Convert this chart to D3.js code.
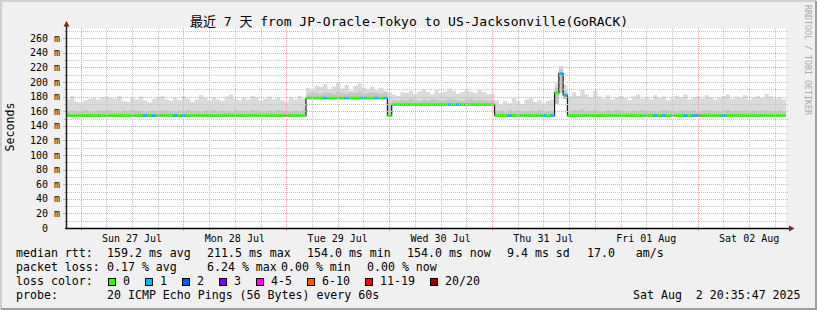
<!DOCTYPE html>
<html>
<head>
<meta charset="utf-8">
<script src="https://cdn.jsdelivr.net/npm/d3@7"></script>
<style>
	html, body { margin: 0; padding: 0; background: #f0f0f0; }
	svg text { font-family: "DejaVu Sans Mono", "Noto Sans CJK SC", monospace; white-space: pre; }
</style>
</head>
<body>
<svg id="chart" width="817" height="310"></svg>
<script>

// graph time range (7 days up to the graph time)
var endTime = Date.UTC(2025, 7, 2, 20, 35, 47);
var startTime = endTime - 7 * 24 * 3600 * 1000;

// hourly median rtt (ms), 168 hours from startTime
var medianRtt = [
	154,154,154,154,154,154,154,154,154,154,154,154,
	154,154,154,154,154,154,154,154,154,154,154,154,
	154,154,154,154,154,154,154,154,154,154,154,154,
	154,154,154,154,154,154,154,154,154,154,154,154,
	154,154,154,154,154,154,154,154,178,178,178,178,
	178,178,178,178,178,178,178,178,178,178,178,178,
	178,178,178,154,169,169,169,169,169,169,169,169,
	169,169,169,169,169,169,169,169,169,169,169,169,
	169,169,169,169,154,154,154,154,154,154,154,154,
	154,154,154,154,154,154,185,211.5,182,154,154,154,
	154,154,154,154,154,154,154,154,154,154,154,154,
	154,154,154,154,154,154,154,154,154,154,154,154,
	154,154,154,154,154,154,154,154,154,154,154,154,
	154,154,154,154,154,154,154,154,154,154,154,154
];

// lowest ping of the hour
var smokeLo = [
	154,154,154,154,154,154,154,154,154,154,154,154,
	154,154,154,154,154,154,154,154,154,154,154,154,
	154,154,154,154,154,154,154,154,154,154,154,154,
	154,154,154,154,154,154,154,154,154,154,154,154,
	154,154,154,154,154,154,154,154,178,178,178,178,
	178,178,178,178,178,178,178,178,178,178,178,178,
	178,178,178,154,169,169,169,169,169,169,169,169,
	169,169,169,169,169,169,169,169,169,169,169,169,
	169,169,169,169,154,154,154,154,154,154,154,154,
	154,154,154,154,154,154,170,185,177,154,154,154,
	154,154,154,154,154,154,154,154,154,154,154,154,
	154,154,154,154,154,154,154,154,154,154,154,154,
	154,154,154,154,154,154,154,154,154,154,154,154,
	154,154,154,154,154,154,154,154,154,154,154,154
];

// top of the dense part of the smoke
var smokeMid = [
	160,161,159,160,162,160,159,161,160,162,161,160,
	159,161,160,162,160,161,159,160,161,160,162,161,
	160,159,161,160,162,161,160,159,161,160,162,160,
	161,160,159,162,160,161,160,162,161,159,160,161,
	160,162,161,160,159,161,160,162,184,186,185,184,
	186,185,184,187,185,184,186,185,187,184,185,186,
	185,184,186,172,175,174,176,175,177,175,174,176,
	175,177,176,174,175,177,176,175,174,176,177,175,
	176,175,174,175,160,161,159,162,160,161,160,159,
	161,160,162,160,159,161,192,218,188,160,162,161,
	163,160,161,162,160,159,161,160,162,161,160,159,
	161,160,162,160,161,159,160,162,161,160,159,161,
	162,160,161,159,160,162,161,160,159,161,162,160,
	161,160,162,159,161,160,162,161,160,159,161,160
];

// highest ping of the hour
var smokeHi = [
	176,181,173,172,175,177,178,176,179,180,178,177,
	181,174,173,178,176,180,175,172,177,179,181,176,
	174,178,175,180,177,173,176,182,178,175,179,176,
	174,180,183,177,175,178,176,181,179,174,177,180,
	176,178,175,173,179,176,181,177,192,189,195,193,
	197,190,194,199,191,196,188,195,198,192,190,194,
	189,192,188,186,183,181,186,185,188,184,187,190,
	186,183,189,185,187,191,188,184,186,190,187,185,
	189,186,183,184,175,169,174,171,178,174,170,176,
	178,173,175,171,174,176,198,222,196,180,186,181,
	189,183,179,188,180,177,182,176,179,181,178,175,
	180,183,177,179,176,182,178,180,175,177,181,179,
	183,176,178,180,177,182,179,176,178,181,183,177,
	180,178,182,176,179,181,178,184,180,177,179,176
];

// lost pings (of 20) per hour
var lossCount = [
	0,0,0,0,0,0,0,0,0,0,0,0,
	0,0,0,0,0,0,1,0,1,0,0,0,
	0,1,0,1,0,0,0,0,0,0,0,0,
	0,0,0,0,0,0,0,0,0,0,0,0,
	0,0,0,0,0,0,0,0,0,0,0,0,
	1,0,0,0,0,1,0,0,0,1,0,0,
	1,0,1,0,0,0,0,0,0,0,0,0,
	0,0,0,0,0,1,0,1,0,0,0,0,
	0,0,0,0,0,0,0,1,0,0,0,0,
	0,0,0,1,0,1,0,1,1,0,0,0,
	0,0,0,0,0,0,0,0,0,0,0,0,
	0,0,0,0,0,1,0,1,0,0,0,0,
	1,0,1,1,0,0,0,0,0,1,0,0,
	0,0,0,0,0,0,0,0,0,0,0,0
];

var yTicks = [0, 20, 40, 60, 80, 100, 120, 140, 160, 180, 200, 220, 240, 260];
var yTickLabels = ['0  ', '20 m', '40 m', '60 m', '80 m', '100 m', '120 m', '140 m', '160 m', '180 m', '200 m', '220 m', '240 m', '260 m'];
var dayLabels = ['Sun 27 Jul', 'Mon 28 Jul', 'Tue 29 Jul', 'Wed 30 Jul', 'Thu 31 Jul', 'Fri 01 Aug', 'Sat 02 Aug'];

var lossLevels = [0, 1, 2, 3, 5, 10, 19, 20];
var lossLabels = ['0', '1', '2', '3', '4-5', '6-10', '11-19', '20/20'];
var lossColors = ['#26ff00', '#00b8ff', '#0059ff', '#7e00ff', '#ff00ff', '#ff5500', '#ff0000', '#a00000'];

var titleText = '最近 7 天 from JP-Oracle-Tokyo to US-Jacksonville(GoRACK)';
var rttStats = [['159.2 ms avg', 107], ['211.5 ms max', 207], ['154.0 ms min', 307], ['154.0 ms now', 407], ['9.4 ms sd', 507], ['17.0   am/s', 587]];
var lossStats = [['0.17 % avg', 107], ['6.24 % max', 207], ['0.00 % min', 281], ['0.00 % now', 367]];
var probeText = '20 ICMP Echo Pings (56 Bytes) every 60s';
var stampText = 'Sat Aug  2 20:35:47 2025';


var svg = d3.select('#chart');
var W = 817, H = 310;
var plotL = 66, plotR = 786, plotT = 28, plotB = 228;
var hourMs = 3600 * 1000;

var x = d3.scaleUtc().domain([startTime, endTime]).range([plotL, plotR]);
var y = d3.scaleLinear().domain([0, 274]).range([plotB, plotT]);

var points = medianRtt.map(function (m, i) {
	return { t: startTime + i * hourMs, median: m, lo: smokeLo[i], mid: smokeMid[i], hi: smokeHi[i], loss: lossCount[i] };
});
// closing point so the last step reaches the end
var stepPoints = points.concat([Object.assign({}, points[points.length - 1], { t: endTime })]);

function lossColor(l) {
	for (var i = 0; i < lossLevels.length; i++) {
		if (l <= lossLevels[i]) return lossColors[i];
	}
	return lossColors[lossColors.length - 1];
}

//frame
svg.append('rect').attr('width', W).attr('height', H).attr('fill', '#f0f0f0');
svg.append('path').attr('d', 'M1,' + (H - 1) + 'V1H' + (W - 1)).attr('stroke', '#cfcfcf').attr('stroke-width', 2).attr('fill', 'none');
svg.append('path').attr('d', 'M1,' + (H - 1) + 'H' + (W - 1) + 'V1').attr('stroke', '#9e9e9e').attr('stroke-width', 2).attr('fill', 'none');

svg.append('rect')
	.attr('x', plotL).attr('y', plotT)
	.attr('width', plotR - plotL).attr('height', plotB - plotT)
	.attr('fill', '#ffffff');

//smoke
var clip = svg.append('clipPath').attr('id', 'plotclip');
clip.append('rect').attr('x', plotL).attr('y', plotT).attr('width', plotR - plotL).attr('height', plotB - plotT);

var plot = svg.append('g').attr('clip-path', 'url(#plotclip)');

var outerSmoke = d3.area()
	.curve(d3.curveStepAfter)
	.x(function (d) { return x(d.t); })
	.y0(function (d) { return y(d.lo); })
	.y1(function (d) { return y(d.hi); });

var innerSmoke = d3.area()
	.curve(d3.curveStepAfter)
	.x(function (d) { return x(d.t); })
	.y0(function (d) { return y(d.lo); })
	.y1(function (d) { return y(d.mid); });

plot.append('path').datum(stepPoints).attr('d', outerSmoke).attr('fill', '#dadada');
plot.append('path').datum(stepPoints).attr('d', innerSmoke).attr('fill', '#c6c6c6');

//grid
var grid = svg.append('g').attr('shape-rendering', 'crispEdges');
var minorColor = '#c4c4c4', majorColor = '#eda0a0';

d3.range(10, 274, 10).forEach(function (v) {
	var major = v % 20 === 0;
	var yy = Math.round(y(v)) + 0.5;
	grid.append('line')
		.attr('x1', plotL - (major ? 3 : 2)).attr('x2', plotL)
		.attr('y1', yy).attr('y2', yy)
		.attr('stroke', major ? majorColor : minorColor);
	grid.append('line')
		.attr('x1', plotL + 1).attr('x2', plotR + 2)
		.attr('y1', yy).attr('y2', yy)
		.attr('stroke', major ? majorColor : minorColor)
		.attr('stroke-dasharray', '1,1');
});

d3.utcHour.every(6).range(startTime, endTime).forEach(function (t) {
	var major = t.getUTCHours() === 0;
	var xx = Math.round(x(t)) + 0.5;
	grid.append('line')
		.attr('x1', xx).attr('x2', xx)
		.attr('y1', plotT).attr('y2', plotB)
		.attr('stroke', major ? majorColor : minorColor)
		.attr('stroke-dasharray', '1,1');
	grid.append('line')
		.attr('x1', xx).attr('x2', xx)
		.attr('y1', plotB).attr('y2', plotB + (major ? 3 : 2))
		.attr('stroke', major ? majorColor : minorColor);
});

//median line + loss colour bars
var medianLine = d3.line()
	.curve(d3.curveStepAfter)
	.x(function (d) { return x(d.t); })
	.y(function (d) { return y(d.median); });

plot.append('path').datum(stepPoints)
	.attr('d', medianLine)
	.attr('fill', 'none')
	.attr('stroke', '#202020')
	.attr('stroke-width', 1.2);

plot.selectAll('rect.med').data(points).enter().append('rect')
	.attr('class', 'med')
	.attr('x', function (d) { return x(d.t); })
	.attr('width', function (d) { return x(d.t + hourMs) - x(d.t); })
	.attr('y', function (d) { return y(d.median) - 1.3; })
	.attr('height', 2.6)
	.attr('fill', function (d) { return lossColor(d.loss); });

//axes
svg.append('line').attr('x1', plotL + 0.5).attr('x2', plotL + 0.5).attr('y1', plotB + 1).attr('y2', 25)
	.attr('stroke', '#1f1f1f').attr('stroke-width', 1.5);
svg.append('line').attr('x1', plotL - 1).attr('x2', 790).attr('y1', plotB + 0.5).attr('y2', plotB + 0.5)
	.attr('stroke', '#000').attr('stroke-width', 1.5);
svg.append('path').attr('d', 'M' + (plotL + 0.5) + ',21L' + (plotL + 3.5) + ',26.5L' + (plotL - 2.5) + ',26.5Z').attr('fill', '#801f1f');
svg.append('path').attr('d', 'M794.5,' + (plotB + 0.5) + 'L789,' + (plotB - 2.5) + 'L789,' + (plotB + 3.5) + 'Z').attr('fill', '#801f1f');

var yLab = svg.append('g').attr('font-size', '10px').attr('text-anchor', 'end');
yTicks.forEach(function (v, i) {
	yLab.append('text')
		.attr('x', 60).attr('y', y(v) + 3.5)
		.text(yTickLabels[i]);
});

var xLab = svg.append('g').attr('font-size', '10px').attr('text-anchor', 'middle');
d3.utcDay.range(startTime, endTime).forEach(function (d, i) {
	xLab.append('text')
		.attr('x', x(d3.utcHour.offset(d, 12)))
		.attr('y', 242)
		.text(dayLabels[i]);
});

//titles
svg.append('text').attr('x', 409).attr('y', 25.5).attr('text-anchor', 'middle')
	.attr('font-size', '13px').text(titleText);

svg.append('text').attr('transform', 'translate(14,127) rotate(-90)').attr('text-anchor', 'middle')
	.attr('font-size', '11.6px').text('Seconds');

svg.append('text').attr('transform', 'translate(805,5) rotate(90)')
	.attr('font-size', '8.3px').attr('fill', '#a8a8a8').text('RRDTOOL / TOBI OETIKER');

//legend
var leg = svg.append('g').attr('font-size', '11.6px');
var rows = [257, 271, 285, 299];

leg.append('text').attr('x', 16).attr('y', rows[0]).text('median rtt:');
rttStats.forEach(function (s) {
	leg.append('text').attr('x', s[1]).attr('y', rows[0]).text(s[0]);
});

leg.append('text').attr('x', 16).attr('y', rows[1]).text('packet loss:');
lossStats.forEach(function (s) {
	leg.append('text').attr('x', s[1]).attr('y', rows[1]).text(s[0]);
});

leg.append('text').attr('x', 16).attr('y', rows[2]).text('loss color:');
var bx = 108.5;
lossLabels.forEach(function (lab, i) {
	leg.append('rect')
		.attr('x', bx).attr('y', 278.5)
		.attr('width', 7).attr('height', 7)
		.attr('fill', lossColors[i])
		.attr('stroke', '#000').attr('stroke-width', 1);
	leg.append('text').attr('x', bx + 14.5).attr('y', rows[2]).text(lab);
	bx += 14.5 + lab.length * 7 + 15.5;
});

leg.append('text').attr('x', 16).attr('y', rows[3]).text('probe:');
leg.append('text').attr('x', 107).attr('y', rows[3]).text(probeText);
leg.append('text').attr('x', 633).attr('y', rows[3]).text(stampText);

</script>
</body>
</html>
